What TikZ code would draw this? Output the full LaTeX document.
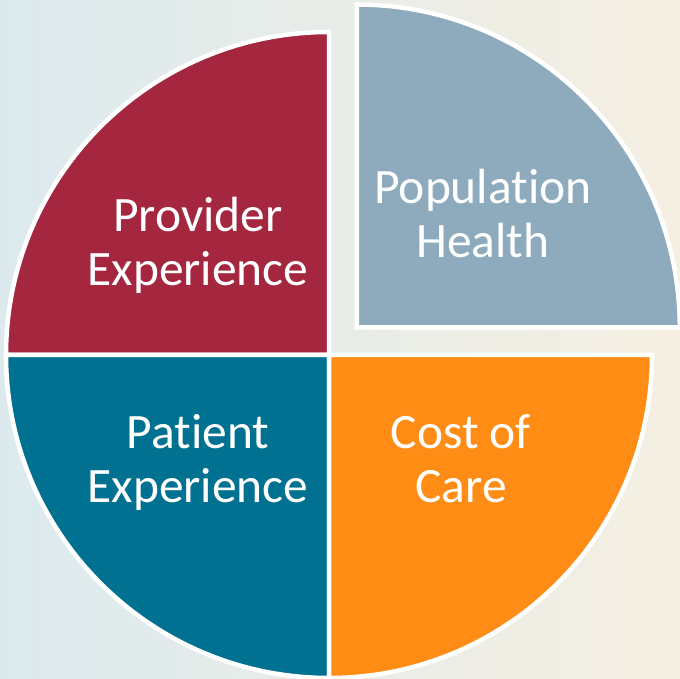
\documentclass[tikz,border=0pt]{standalone}
\usepackage{fontspec}
\setmainfont[Ligatures={NoCommon}]{Carlito}
\definecolor{bgleft}{HTML}{DCEAEE}
\definecolor{bgright}{HTML}{F5EFE2}
\definecolor{provred}{HTML}{A4263F}
\definecolor{popblue}{HTML}{8DABBD}
\definecolor{patteal}{HTML}{017191}
\definecolor{costorange}{HTML}{FE8C15}
\tikzset{
  slice/.style={draw=white, line width=4.5pt, line join=miter},
  lbl/.style={text=white, align=center, anchor=base, font=\fontsize{49.5}{54}\selectfont, inner sep=0pt}
}
\begin{document}
\begin{tikzpicture}[x=1pt,y=1pt]
\useasboundingbox (0,0) rectangle (680,678);
\shade[left color=bgleft, right color=bgright] (0,0) rectangle (680,678);
\coordinate (C) at (329,323);
\coordinate (P) at (356.8,350.5);
% slices
\draw[slice, fill=provred] (C) -- ++(180:323) arc (180:90:323) -- cycle;
\draw[slice, fill=patteal] (C) -- ++(180:323) arc (180:270:323) -- cycle;
\draw[slice, fill=costorange] (C) -- ++(270:323) arc (270:360:323) -- cycle;
\draw[slice, fill=popblue] (P) -- ++(0:323) arc (0:90:323) -- cycle;
% labels (anchor at baseline of the second line)
\node[lbl] (prov) at (198,392) {Provider\\Experience};
\node[lbl] (pop) at (483,420) {Population\\Health};
\node[lbl] (pat) at (198,176) {Patient\\Experience};
\node[lbl] (cost) at (461,176) {Cost of\\Care};
\end{tikzpicture}
\end{document}
